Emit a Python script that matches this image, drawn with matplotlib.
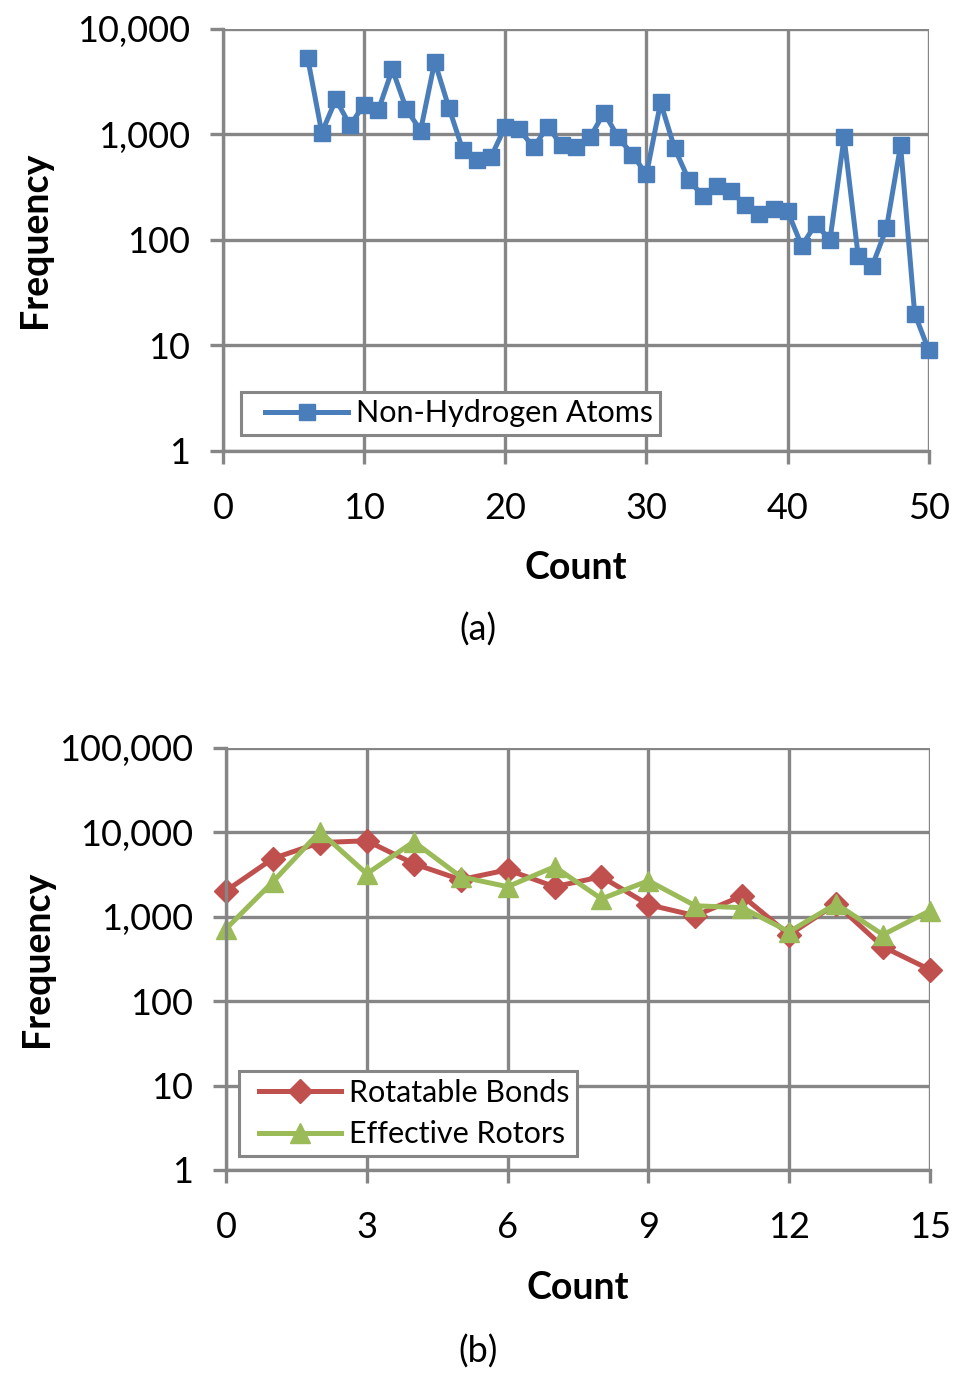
import matplotlib
matplotlib.use('Agg')
import matplotlib.pyplot as plt
from matplotlib.lines import Line2D
from matplotlib.legend_handler import HandlerLine2D
from matplotlib.ticker import FixedLocator, FuncFormatter, NullLocator

plt.rcParams['font.family'] = ['Lato', 'DejaVu Sans']

# (a) non-hydrogen atoms
atoms_count = list(range(6, 51))
atoms_freq = [5300, 1040, 2150, 1220, 1920, 1690, 4150, 1730, 1090, 4900,
              1800, 705, 567, 618, 1190, 1115, 753, 1190, 787, 753,
              937, 1615, 937, 646, 418, 2010, 737, 370, 261, 324,
              290, 214, 176, 196, 187, 88, 142, 100, 937, 70,
              57, 129, 787, 20, 9]

# (b) rotatable bonds / effective rotors
rot_count = list(range(0, 16))
rot_bonds = [2030, 4900, 7560, 7950, 4250, 2750, 3600, 2270, 2980, 1390,
             1030, 1770, 612, 1420, 441, 236]
eff_rotors = [720, 2600, 10200, 3230, 7750, 2980, 2270, 3910, 1630, 2670,
              1350, 1280, 665, 1420, 612, 1180]

grid_col = '#868686'
fs = 26
lab_fs = 27
leg_fs = 22


def style_axes(ax, xticks, ymax, xlab_y, ylab_x):
    ax.set_yscale('log')
    ax.set_ylim(1, ymax)
    ax.yaxis.set_major_locator(FixedLocator([10 ** i for i in range(0, 6) if 10 ** i <= ymax]))
    ax.yaxis.set_minor_locator(NullLocator())
    ax.yaxis.set_major_formatter(FuncFormatter(lambda v, p: f'{v:,.0f}'))
    ax.set_xticks(xticks)
    ax.set_xlim(xticks[0], xticks[-1])
    ax.grid(True, color=grid_col, linewidth=2.4)
    for s in ax.spines.values():
        s.set_visible(False)
    for side in ['left', 'bottom']:
        ax.spines[side].set_visible(True)
        ax.spines[side].set_color(grid_col)
        ax.spines[side].set_linewidth(2.4)
    ax.tick_params(axis='both', labelsize=fs, color=grid_col, width=2.4,
                   length=9.5, direction='out')
    ax.tick_params(axis='x', pad=20)
    ax.tick_params(axis='y', pad=14)
    ax.set_ylabel('Frequency', fontsize=lab_fs, fontweight='bold', va='center')
    ax.set_xlabel('Count', fontsize=lab_fs, fontweight='bold', va='center')
    ax.xaxis.set_label_coords(0.5, xlab_y)
    ax.yaxis.set_label_coords(ylab_x, 0.5)


def add_legend(ax, anchor, pad, spacing):
    leg = ax.legend(loc='lower left', bbox_to_anchor=anchor, fontsize=leg_fs,
                    fancybox=False, edgecolor=grid_col, framealpha=1,
                    borderaxespad=0, handlelength=2.7 + pad, borderpad=0.25,
                    handletextpad=0.25, labelspacing=spacing,
                    handler_map={Line2D: HandlerLine2D(xpad=pad)})
    leg.get_frame().set_linewidth(2.2)
    return leg


fig = plt.figure(figsize=(9.59, 13.8), dpi=100)

ax1 = fig.add_axes([0.2325, 0.6732, 0.736, 0.3058])
ax1.plot(atoms_count, atoms_freq, color='#4A7EBB', linewidth=3.6, marker='s',
         markersize=11, label='Non-Hydrogen Atoms', clip_on=False)
style_axes(ax1, [0, 10, 20, 30, 40, 50], 10000, -0.277, -0.266)
add_legend(ax1, (0.0255, 0.038), 0.55, 0.3)
fig.text(0.498, 1 - 630 / 1380, '(a)', fontsize=fs, ha='center', va='center')

ax2 = fig.add_axes([0.2357, 0.1522, 0.734, 0.3058])
ax2.plot(rot_count, rot_bonds, color='#C0504D', linewidth=3.6, marker='D',
         markersize=12, label='Rotatable Bonds', clip_on=False)
ax2.plot(rot_count, eff_rotors, color='#9BBB59', linewidth=3.6, marker='^',
         markersize=15, label='Effective Rotors', clip_on=False)
style_axes(ax2, [0, 3, 6, 9, 12, 15], 100000, -0.28, -0.268)
add_legend(ax2, (0.018, 0.033), 0.4, 0.45)
fig.text(0.498, 1 - 1352 / 1380, '(b)', fontsize=fs, ha='center', va='center')

fig.savefig('out.png', dpi=100)
